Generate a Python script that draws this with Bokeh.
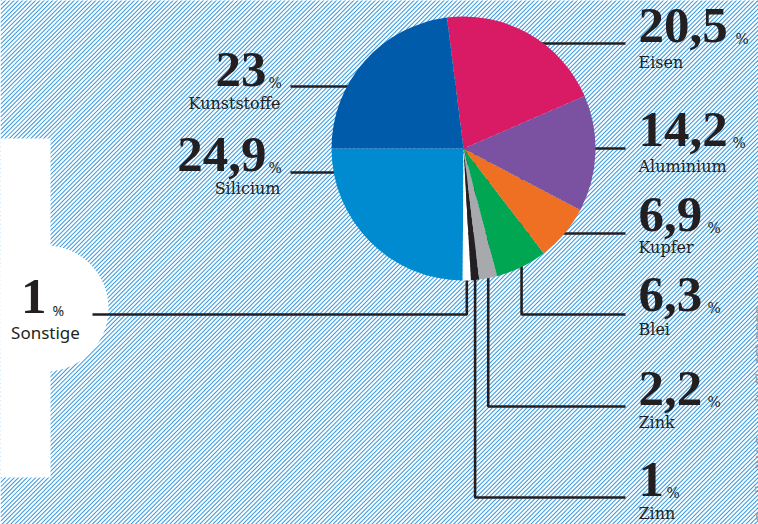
import numpy as np
from bokeh.plotting import figure
from bokeh.models import Range1d
from bokeh.core.properties import value
from bokeh.embed import file_html
from bokeh.resources import INLINE

# ---------------- data ----------------
materials = ["Silicium", "Sonstige", "Zinn", "Zink", "Blei", "Kupfer",
             "Aluminium", "Eisen", "Kunststoffe"]
shares = [24.9, 1.0, 1.0, 2.2, 6.3, 6.9, 14.2, 20.5, 23.0]
share_labels = ["24,9", "1", "1", "2,2", "6,3", "6,9", "14,2", "20,5", "23"]
colors = ["#008bd0", "#ffffff", "#231f20", "#a7a9ac", "#00a651", "#f07023",
          "#7b52a1", "#d81b64", "#005baa"]
source_note = "Quelle: IW Consult, Fh-ISI 2009"

# ---------------- layout (reference pixel coords, y from top) ----------------
W, H = 758, 524
def Y(y):
    return H - y

def YB(y, fs):
    # baseline correction for rendered text
    return H - (y - 0.38 * fs)

CX, CY, R = 463, 148, 132
START = np.pi  # first slice starts at 9 o'clock, counter-clockwise

layout = {
    "Kunststoffe": dict(nx=266, ny=88,  al="right", px=268, lx=280, ly=109, lead=("h", 290, 86)),
    "Silicium":    dict(nx=266, ny=173, al="right", px=268, lx=280, ly=194, lead=("h", 290, 172)),
    "Eisen":       dict(nx=638, ny=44,  al="left",  px=735, lx=638, ly=68,  lead=("h", 625, 43)),
    "Aluminium":   dict(nx=638, ny=148, al="left",  px=732, lx=638, ly=172, lead=("h", 625, 148)),
    "Kupfer":      dict(nx=638, ny=233, al="left",  px=707, lx=638, ly=253, lead=("h", 625, 233)),
    "Blei":        dict(nx=638, ny=313, al="left",  px=707, lx=638, ly=335, lead=("v", 625, 314)),
    "Zink":        dict(nx=638, ny=407, al="left",  px=707, lx=638, ly=428, lead=("v", 625, 406)),
    "Zinn":        dict(nx=638, ny=498, al="left",  px=666, lx=638, ly=519, lead=("v", 625, 497)),
    "Sonstige":    dict(nx=46,  ny=315, al="right", px=52,  lx=45,  ly=338, lead=("v", 92, 314)),
}

NUM_FS, PCT_FS, LAB_FS, SANS_FS = 51, 14, 16, 17

# ---------------- figure ----------------
p = figure(width=W, height=H, x_range=Range1d(0, W), y_range=Range1d(0, H),
           output_backend="svg", toolbar_location=None, min_border=0,
           x_axis_type=None, y_axis_type=None)
p.grid.visible = False
p.outline_line_color = None
p.background_fill_color = "white"
p.border_fill_color = "white"

# hatched background
c = np.arange(-W, H + 10, 4.3)
p.segment(x0=np.zeros_like(c), y0=c, x1=np.full_like(c, W), y1=c + W,
          line_color="#3a9be0", line_width=1.05)

# white panel + circle on the left
p.quad(left=[0], right=[50], top=[Y(138)], bottom=[Y(477)],
       fill_color="white", line_color=None)
p.circle(x=[45], y=[Y(308)], radius=63, fill_color="white", line_color=None)

# angles
fr = np.array(shares) / sum(shares)
ends = START + 2 * np.pi * np.cumsum(fr)
starts = ends - 2 * np.pi * fr
mids = (starts + ends) / 2

# leader lines (drawn beneath the pie)
xs, ys = [], []
for i, m in enumerate(materials):
    kind, x0, y0 = layout[m]["lead"]
    if kind == "h":
        xs.append([x0, CX])
        ys.append([Y(y0), Y(y0)])
    else:
        xv = CX + R * np.cos(mids[i])
        xs.append([x0, xv, xv])
        ys.append([Y(y0), Y(y0), Y(CY)])
p.multi_line(xs=xs, ys=ys, line_color="#231f20", line_width=2.6)

# pie
p.wedge(x=CX, y=Y(CY), radius=R, start_angle=starts, end_angle=ends,
        fill_color=colors, line_color=None)

# texts
for i, m in enumerate(materials):
    L = layout[m]
    sans = (m == "Sonstige")
    p.text(x=[L["nx"]], y=[YB(L["ny"], NUM_FS)], text=[share_labels[i]],
           text_font=value("Liberation Serif"), text_font_style="bold",
           text_font_size=f"{NUM_FS}px", text_color="#231f20",
           text_align=L["al"], text_baseline="alphabetic")
    p.text(x=[L["px"]], y=[YB(L["ny"], PCT_FS)], text=["%"],
           text_font=value("Noto Sans" if sans else "DejaVu Serif"),
           text_font_size=f"{PCT_FS}px", text_color="#231f20",
           text_align="left", text_baseline="alphabetic")
    if sans:
        p.text(x=[L["lx"]], y=[YB(L["ly"], SANS_FS)], text=[m],
               text_font=value("Noto Sans"), text_font_size=f"{SANS_FS}px",
               text_color="#231f20", text_align="center", text_baseline="alphabetic")
    else:
        p.text(x=[L["lx"]], y=[YB(L["ly"], LAB_FS)], text=[m],
               text_font=value("DejaVu Serif"), text_font_size=f"{LAB_FS}px",
               text_color="#231f20", text_align="right" if L["al"] == "right" else "left",
               text_baseline="alphabetic")

# source note, rotated at right edge (cut off by the edge, as in the original)
p.text(x=[759], y=[Y(522)], text=[source_note], angle=np.pi / 2,
       text_font=value("Noto Sans"), text_font_size="15px", text_color="#939598",
       text_align="left", text_baseline="alphabetic")

open("out.html", "w").write(file_html(p, INLINE))
